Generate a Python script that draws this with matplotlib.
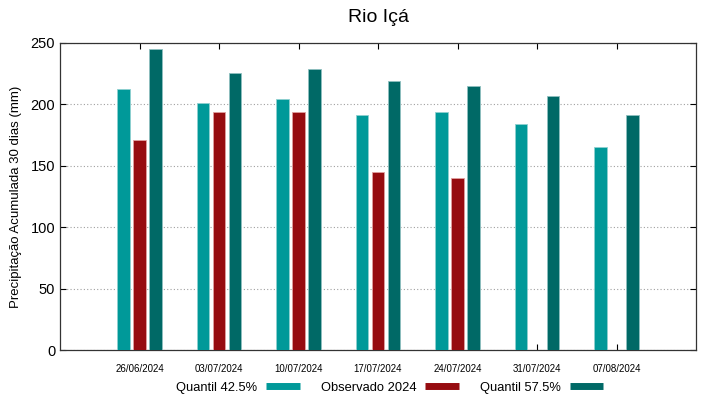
import numpy as np
import matplotlib.pyplot as plt
from matplotlib.lines import Line2D

plt.rcParams['font.family'] = ['Liberation Sans', 'DejaVu Sans']

# datas e valores
datas = ['26/06/2024', '03/07/2024', '10/07/2024', '17/07/2024',
         '24/07/2024', '31/07/2024', '07/08/2024']
quantil_425 = [212.4, 201.3, 204.5, 191.6, 193.7, 184.0, 165.6]
observado = [171.3, 193.7, 193.7, 145.0, 140.2, np.nan, np.nan]
quantil_575 = [245.4, 225.9, 228.6, 219.4, 215.0, 207.0, 191.0]

cor_q1 = '#009999'
cor_obs = '#960c10'
cor_q2 = '#006966'

fig = plt.figure(figsize=(7.19, 3.99), dpi=100)
ax = fig.add_axes([60/719, 1 - 350/399, 636/719, 307/399])

x = np.arange(len(datas))
w = 0.16
ax.bar(x - 0.2, quantil_425, w, color=cor_q1, edgecolor='#8fd0d0', linewidth=0.6, zorder=3)
ax.bar(x, observado, w, color=cor_obs, edgecolor='#e0a0a0', linewidth=0.6, zorder=3)
ax.bar(x + 0.2, quantil_575, w, color=cor_q2, edgecolor='#8fc0c0', linewidth=0.6, zorder=3)

ax.set_xlim(-1, 7)
ax.set_ylim(0, 250)
ax.set_yticks(range(0, 251, 50))
ax.set_xticks(x)
ax.set_xticklabels(datas, fontsize=7)
ax.tick_params(axis='x', direction='in', length=4, width=0.8, top=True, pad=10)
ax.tick_params(axis='y', direction='in', length=4, width=0.8, right=True, labelsize=10.5)
ax.grid(axis='y', linestyle=(0, (1, 2)), color='#a0a0a0', linewidth=0.8, zorder=0)
for s in ax.spines.values():
    s.set_linewidth(0.9)
    s.set_color('#333333')

ax.set_ylabel('Precipitação Acumulada 30 dias (mm)', fontsize=9.5, labelpad=6)
ax.set_title('Rio Içá', fontsize=14, pad=15)

handles = [Line2D([0], [0], color=c, linewidth=5, solid_capstyle='butt')
           for c in (cor_q1, cor_obs, cor_q2)]
fig.legend(handles, ['Quantil 42.5%', 'Observado 2024', 'Quantil 57.5%'],
           loc='center', bbox_to_anchor=(0.542, 0.028), ncol=3, frameon=False,
           markerfirst=False, fontsize=9.3, handlelength=2.6, columnspacing=1.6,
           handletextpad=0.7)

fig.savefig('out.png', dpi=100)
